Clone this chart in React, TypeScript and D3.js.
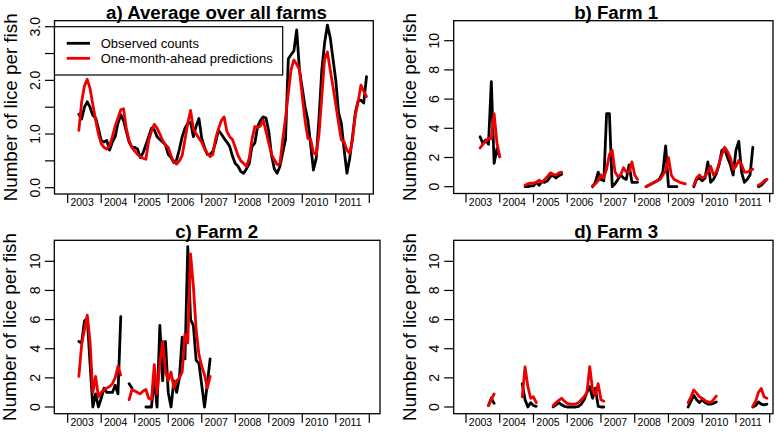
import * as d3 from "d3";

const _ = null;

// monthly series, first value = May 2003
const firstMonth = 2003 + 4 / 12;
const yearTicks = d3.range(2003, 2013);
const yearLabels = d3.range(2003, 2012);

const avgObserved = [
  1.37, 1.28, 1.5, 1.6, 1.5, 1.35, 1.3, 1.1, 0.88, 0.85,
  0.88, 0.7, 0.85, 0.95, 1.2, 1.36, 1.25, 1.05, 0.85, 0.75,
  0.75, 0.72, 0.56, 0.65, 0.8, 0.95, 1.11, 1.08, 0.95, 0.9,
  0.85, 0.8, 0.62, 0.56, 0.47, 0.52, 0.72, 0.95, 1.11, 1.2,
  1.22, 0.95, 1.15, 1.29, 0.92, 0.75, 0.62, 0.62, 0.68, 0.85,
  1.07, 1.0, 0.92, 0.85, 0.77, 0.59, 0.45, 0.4, 0.3, 0.27,
  0.35, 0.45, 0.77, 0.83, 1.14, 1.25, 1.32, 1.3, 1.05, 0.6,
  0.35, 0.27, 0.4, 0.65, 0.9, 2.4, 2.48, 2.55, 2.94, 2.19,
  1.85, 1.51, 1.26, 0.8, 0.33, 0.55, 1.3, 2.2, 2.7, 3.03,
  2.8, 2.4, 2.0, 1.4, 1.2, 0.7, 0.27, 0.55, 0.95, 1.4,
  1.62, 1.63, 1.58, 2.07,
];
const avgPredicted = [
  1.07, 1.6, 1.9, 2.02, 1.85, 1.55, 1.26, 1.0, 0.82, 0.75,
  0.72, 0.78, 0.95, 1.15, 1.3, 1.45, 1.47, 1.1, 0.88, 0.75,
  0.68, 0.62, 0.58, 0.55, 0.53, 0.88, 1.05, 1.18, 1.11, 1.0,
  0.88, 0.8, 0.75, 0.6, 0.48, 0.44, 0.5, 0.6, 0.9, 1.2,
  1.44, 1.1, 1.0, 0.92, 0.85, 0.72, 0.64, 0.58, 0.62, 0.92,
  1.1, 1.25, 1.32, 1.05, 0.95, 0.9, 0.75, 0.6, 0.5, 0.45,
  0.4, 0.55, 0.9, 1.14, 1.12, 1.15, 1.26, 1.05, 0.83, 0.62,
  0.52, 0.43, 0.45, 0.9, 1.3, 1.76, 2.2, 2.38, 2.3, 2.2,
  1.7, 1.25, 0.92, 0.9, 0.65, 0.62, 1.0, 1.7, 2.4, 2.53,
  2.2, 1.88, 1.55, 1.2, 0.89, 0.85, 0.7, 0.64, 0.9, 1.35,
  1.6, 1.91, 1.8, 1.7,
];

const farm1Observed = [
  _, 3.42, 2.97, 3.2, 2.9, 7.2, 1.6, 2.6, 2.05, _,
  _, _, _, _, _, _, _, 0.0, 0.0, 0.05,
  0.05, 0.3, 0.1, 0.35, 0.3, 0.4, 0.7, 0.75, 0.6, 0.75,
  0.85, _, _, _, _, _, _, _, _, _,
  _, 0.0, 0.3, 1.0, 0.5, 0.4, 5.0, 5.0, 0.0, 0.2,
  0.5, 0.8, 0.6, 0.5, 1.5, 0.3, 0.3, 0.3, _, _,
  0.0, 0.1, 0.2, 0.3, 0.4, 0.6, 1.0, 2.8, 0.0, 0.0,
  0.0, 0.0, _, _, _, _, _, 0.0, 0.5, 0.6,
  0.4, 0.6, 1.7, 0.3, 0.5, 0.9, 1.5, 2.5, 2.6, 2.0,
  1.5, 0.8, 2.5, 3.1, 1.0, 0.3, 0.5, 0.8, 2.7, _,
  0.0, 0.1, 0.3, 0.5,
];
const farm1Predicted = [
  _, 2.65, 2.9, 3.1, 3.3, 3.3, 5.0, 3.0, 2.05, _,
  _, _, _, _, _, _, _, 0.1, 0.2, 0.25,
  0.25, 0.3, 0.45, 0.3, 0.5, 0.7, 0.95, 0.85, 0.8, 0.95,
  1.0, _, _, _, _, _, _, _, _, _,
  _, 0.05, 0.2, 0.4, 0.8, 0.6, 1.2, 2.2, 2.5, 1.0,
  0.7, 0.8, 1.3, 1.0, 1.0, 1.7, 0.8, 0.5, _, _,
  0.0, 0.1, 0.2, 0.3, 0.4, 0.5, 0.8, 1.1, 2.0, 0.8,
  0.5, 0.4, 0.3, 0.25, 0.2, _, _, 0.1, 0.6, 0.8,
  0.6, 0.7, 1.0, 1.4, 0.8, 1.0, 1.6, 2.2, 2.7, 2.4,
  2.0, 1.2, 1.4, 1.8, 1.5, 1.0, 1.0, 1.1, 1.2, _,
  0.1, 0.2, 0.4, 0.5,
];

const farm2Observed = [
  4.5, 4.4, 5.9, 6.1, 3.0, 0.0, 0.9, 0.0, 0.6, 1.3,
  1.0, 1.0, 1.0, 1.5, 0.9, 6.2, _, _, 1.6, 1.3,
  _, _, _, _, 0.0, 0.0, 0.0, 2.0, 0.0, 5.6,
  1.8, 4.5, 1.0, 0.0, 1.8, 1.0, 2.0, 4.8, 3.3, 11.0,
  6.0, 5.6, 3.2, 3.0, 1.5, 0.0, 1.6, 3.3,
];
const farm2Predicted = [
  2.1, 4.3, 5.3, 6.3, 4.5, 1.0, 2.1, 0.7, 1.0, 1.2,
  1.3, 1.4, 1.6, 2.0, 2.8, 2.2, _, _, 0.5, 1.2,
  1.1, 1.0, 0.9, 1.1, 1.2, 0.6, 0.5, 2.9, 0.9, 3.0,
  4.5, 2.5, 1.8, 2.4, 1.3, 1.8, 2.0, 2.4, 5.0, 4.4,
  10.5, 8.3, 5.3, 3.6, 2.8, 2.2, 1.3, 2.1,
];

const farm3Observed = [
  _, _, _, _, 0.1, 0.6, 0.25, _, _, _,
  _, _, _, _, _, _, 1.6, 0.5, 0.0, 0.3,
  0.1, 0.05, _, _, _, _, _, 0.0, 0.15, 0.3,
  0.15, 0.05, 0.0, 0.0, 0.0, 0.0, 0.05, 0.2, 0.5, 1.0,
  1.4, 0.6, 1.3, 0.05, 0.0, 0.0, _, _, _, _,
  _, _, _, _, _, _, _, _, _, _,
  _, _, _, _, _, _, _, _, _, _,
  _, _, _, _, _, 0.0, 0.4, 0.8, 0.5, 0.3,
  0.5, 0.3, 0.2, 0.2, 0.25, 0.35, _, _, _, _,
  _, _, _, _, _, _, _, _, 0.0, 0.1,
  0.35, 0.2, 0.15, 0.2,
];
const farm3Predicted = [
  _, _, _, _, 0.1, 0.5, 0.9, _, _, _,
  _, _, _, _, _, _, 0.7, 2.75, 1.4, 0.6,
  0.7, 0.3, _, _, _, _, _, 0.1, 0.3, 0.45,
  0.6, 0.4, 0.25, 0.2, 0.2, 0.2, 0.3, 0.5, 0.7, 1.0,
  2.77, 1.2, 0.8, 1.6, 0.5, 0.4, _, _, _, _,
  _, _, _, _, _, _, _, _, _, _,
  _, _, _, _, _, _, _, _, _, _,
  _, _, _, _, _, 0.3, 0.7, 1.17, 0.95, 0.7,
  0.6, 0.45, 0.35, 0.3, 0.5, 0.75, _, _, _, _,
  _, _, _, _, _, _, _, _, 0.05, 0.4,
  1.0, 1.27, 0.7, 0.6,
];

const legendLabels = ["Observed counts", "One-month-ahead predictions"];
const seriesColors = ["#000000", "#ee0000"];

const FONT = "'Liberation Sans', Arial, Helvetica, sans-serif";

type Panel = {
  title: string;
  observed: (number | null)[];
  predicted: (number | null)[];
  yMax: number;
  yTicks: number[];
  yLabelTicks: number[];
  yFormat: (v: number) => string;
  box: [number, number, number, number]; // left, right, top, bottom
  xRange: [number, number]; // pixel of 2003 and 2012
  yRange: [number, number]; // pixel of 0 and yMax
  titleX: number;
  legend?: boolean;
};

const panels: Panel[] = [
  {
    title: "a) Average over all farms",
    observed: avgObserved,
    predicted: avgPredicted,
    yMax: 3,
    yTicks: d3.range(0, 3.01, 0.5),
    yLabelTicks: [0, 1, 2, 3],
    yFormat: d3.format(".1f"),
    box: [54.5, 373.3, 20.7, 194],
    xRange: [67.7, 369.3],
    yRange: [187.7, 26.7],
    titleX: 216.5,
    legend: true,
  },
  {
    title: "b) Farm 1",
    observed: farm1Observed,
    predicted: farm1Predicted,
    yMax: 10,
    yTicks: [0, 2, 4, 6, 8, 10],
    yLabelTicks: [0, 2, 4, 6, 8, 10],
    yFormat: d3.format("d"),
    box: [453.7, 773, 20.7, 193.5],
    xRange: [466, 769.7],
    yRange: [186.7, 40.7],
    titleX: 616.2,
  },
  {
    title: "c) Farm 2",
    observed: farm2Observed,
    predicted: farm2Predicted,
    yMax: 10,
    yTicks: [0, 2, 4, 6, 8, 10],
    yLabelTicks: [0, 2, 4, 6, 8, 10],
    yFormat: d3.format("d"),
    box: [54.3, 380, 240.3, 413.7],
    xRange: [67.7, 369.3],
    yRange: [407, 261.3],
    titleX: 216.7,
  },
  {
    title: "d) Farm 3",
    observed: farm3Observed,
    predicted: farm3Predicted,
    yMax: 10,
    yTicks: [0, 2, 4, 6, 8, 10],
    yLabelTicks: [0, 2, 4, 6, 8, 10],
    yFormat: d3.format("d"),
    box: [453.7, 773, 240.3, 413.7],
    xRange: [466, 769.7],
    yRange: [407, 261.3],
    titleX: 616.2,
  },
];

function PanelChart({ p }: { p: Panel }) {
  const x = d3.scaleLinear().domain([2003, 2012]).range(p.xRange);
  const y = d3.scaleLinear().domain([0, p.yMax]).range(p.yRange);
  const line = d3
    .line<number | null>()
    .defined((d) => d !== null)
    .x((d, i) => x(firstMonth + i / 12))
    .y((d) => y(d as number));
  const [left, right, top, bottom] = p.box;
  const midY = (top + bottom) / 2;

  return (
    <g>
      <text
        x={p.titleX}
        y={top - 2}
        textAnchor="middle"
        fontWeight="bold"
        fontSize={18.7}
      >
        {p.title}
      </text>
      <text
        transform={`translate(${left - 38},${midY}) rotate(-90)`}
        textAnchor="middle"
        fontSize={18.8}
      >
        Number of lice per fish
      </text>

      {p.yTicks.map((t) => (
        <line
          key={"yt" + t}
          x1={left - 9.5}
          x2={left}
          y1={y(t)}
          y2={y(t)}
          stroke="#000"
          strokeWidth={1.2}
        />
      ))}
      {p.yLabelTicks.map((t) => (
        <text
          key={"yl" + t}
          transform={`translate(${left - 14.5},${y(t)}) rotate(-90)`}
          textAnchor="middle"
          fontSize={14}
        >
          {p.yFormat(t)}
        </text>
      ))}

      {yearTicks.map((yr) => (
        <line
          key={"xt" + yr}
          x1={x(yr)}
          x2={x(yr)}
          y1={bottom}
          y2={bottom + 9}
          stroke="#000"
          strokeWidth={1.2}
        />
      ))}
      {yearLabels.map((yr) => (
        <text
          key={"xl" + yr}
          x={x(yr + 0.43)}
          y={bottom + 12}
          textAnchor="middle"
          fontSize={10.5}
        >
          {yr}
        </text>
      ))}

      {[p.observed, p.predicted].map((s, k) => (
        <path
          key={"s" + k}
          d={line(s) ?? ""}
          fill="none"
          stroke={seriesColors[k]}
          strokeWidth={2.8}
          strokeLinejoin="round"
          strokeLinecap="round"
        />
      ))}

      <rect
        x={left}
        y={top}
        width={right - left}
        height={bottom - top}
        fill="none"
        stroke="#000"
        strokeWidth={1.3}
      />

      {p.legend && (
        <g>
          <rect
            x={left}
            y={y(3)}
            width={282.7 - left}
            height={75 - y(3)}
            fill="#fff"
            stroke="#000"
            strokeWidth={1.2}
          />
          {legendLabels.map((lab, k) => (
            <g key={lab}>
              <line
                x1={66.7}
                x2={90}
                y1={43.3 + k * 15}
                y2={43.3 + k * 15}
                stroke={seriesColors[k]}
                strokeWidth={2.8}
              />
              <text x={100.7} y={48 + k * 15} fontSize={13}>
                {lab}
              </text>
            </g>
          ))}
        </g>
      )}
    </g>
  );
}

export default function App() {
  return (
    <svg
      width={784}
      height={434}
      style={{ position: "absolute", left: 0, top: 0, background: "#fff" }}
      fontFamily={FONT}
    >
      {panels.map((p) => (
        <PanelChart key={p.title} p={p} />
      ))}
    </svg>
  );
}
